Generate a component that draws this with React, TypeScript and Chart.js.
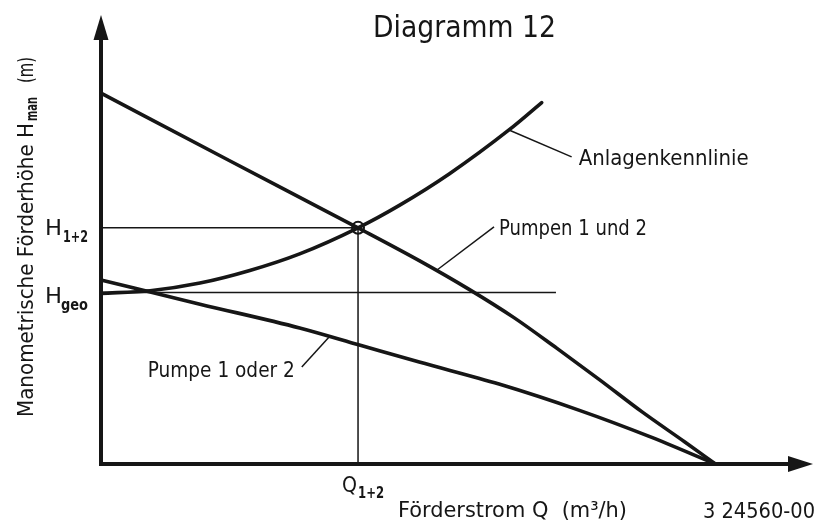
import { useEffect, useRef } from "react";
import { Chart, registerables } from "chart.js";

Chart.register(...registerables);

// Flow Q and head H in relative units (0..100 over the drawn axis length)
const parallelQ = [0, 18, 36.1, 44.7, 51.7, 58, 64, 70, 76, 82, 86.3];
const parallelH = [82.6, 67.6, 52.6, 45.3, 38.9, 32.6, 25.8, 18.8, 11.6, 4.9, 0];

const systemQ = [0, 6.9, 13.9, 20.9, 27.9, 36.1, 41.9, 48.9, 57.3, 61.9];
const systemH = [38.0, 38.6, 40.3, 43.1, 46.8, 52.6, 57.6, 64.6, 74.4, 80.5];

const singleQ = [0, 13.9, 27.9, 36.3, 44.7, 55.9, 67.1, 76.9, 86.3];
const singleH = [41.0, 35.6, 30.3, 26.5, 22.7, 17.8, 12.0, 6.2, 0];

// Static head line and operating point of both pumps together
const geoLineQ = [0, 63.9];
const geoH = 38.2;
const opQ = 36.1;
const opH = 52.6;

// Leader lines from the curves to their captions
const leaderSystemQ = [57.3, 66.1];
const leaderSystemH = [74.4, 68.4];
const leaderParallelQ = [47.1, 55.2];
const leaderParallelH = [43.1, 52.8];
const leaderSingleQ = [32.1, 28.2];
const leaderSingleH = [28.4, 21.6];

const axisMax = 100;

const titleText = "Diagramm 12";
const curveLabels = ["Anlagenkennlinie", "Pumpen 1 und 2", "Pumpe 1 oder 2"];
const xTitle = "Förderstrom Q  (m³/h)";
const yTitleParts = ["Manometrische Förderhöhe H", "man", "(m)"];
const drawingNo = "3 24560-00";

const INK = "#161616";
const FONT = '"DejaVu Sans Condensed", "DejaVu Sans"';

const pts = (qs: number[], hs: number[]) => qs.map((q, i) => ({ x: q, y: hs[i] }));

function fitText(
  ctx: CanvasRenderingContext2D,
  text: string,
  left: number,
  baseline: number,
  width: number,
  size: number,
  bold = false
) {
  ctx.font = `${bold ? "bold " : ""}${size}px ${FONT}`;
  const w = ctx.measureText(text).width;
  ctx.save();
  ctx.translate(left, baseline);
  ctx.scale(width / w, 1);
  ctx.textBaseline = "alphabetic";
  ctx.textAlign = "left";
  ctx.fillText(text, 0, 0);
  ctx.restore();
}

const sketchPlugin = {
  id: "sketch",
  afterDatasetsDraw(chart: any) {
    const { ctx, scales } = chart;
    const sx = scales.x;
    const sy = scales.y;
    const x0 = sx.getPixelForValue(0);
    const y0 = sy.getPixelForValue(0);
    const xTip = sx.getPixelForValue(axisMax);
    const yTip = sy.getPixelForValue(axisMax);
    ctx.save();
    ctx.strokeStyle = INK;
    ctx.fillStyle = INK;
    ctx.lineWidth = 4;
    ctx.beginPath();
    ctx.moveTo(x0, y0 + 2);
    ctx.lineTo(x0, yTip + 20);
    ctx.stroke();
    ctx.beginPath();
    ctx.moveTo(x0 - 2, y0);
    ctx.lineTo(xTip - 20, y0);
    ctx.stroke();
    ctx.beginPath();
    ctx.moveTo(x0, yTip);
    ctx.lineTo(x0 - 7.5, yTip + 25);
    ctx.lineTo(x0 + 7.5, yTip + 25);
    ctx.closePath();
    ctx.fill();
    ctx.beginPath();
    ctx.moveTo(xTip, y0);
    ctx.lineTo(xTip - 25, y0 - 8);
    ctx.lineTo(xTip - 25, y0 + 8);
    ctx.closePath();
    ctx.fill();
    ctx.restore();
  },
  afterDraw(chart: any) {
    const { ctx, scales } = chart;
    const sx = scales.x;
    const sy = scales.y;
    ctx.save();
    ctx.fillStyle = INK;

    // title
    fitText(ctx, titleText, 373, 37, 183, 30);

    // curve captions at the ends of their leader lines
    const sysEndX = sx.getPixelForValue(leaderSystemQ[1]);
    const sysEndY = sy.getPixelForValue(leaderSystemH[1]);
    fitText(ctx, curveLabels[0], sysEndX + 7, sysEndY + 8, 170, 21);

    const parEndX = sx.getPixelForValue(leaderParallelQ[1]);
    const parEndY = sy.getPixelForValue(leaderParallelH[1]);
    fitText(ctx, curveLabels[1], parEndX + 5, parEndY + 8, 148, 21);

    const sinEndX = sx.getPixelForValue(leaderSingleQ[1]);
    const sinEndY = sy.getPixelForValue(leaderSingleH[1]);
    fitText(ctx, curveLabels[2], sinEndX - 7 - 147, sinEndY + 10, 147, 21);

    // H labels on the y axis
    const yOp = sy.getPixelForValue(opH);
    fitText(ctx, "H", 45, yOp + 7, 17, 21);
    fitText(ctx, "1+2", 63, yOp + 14, 25, 16, true);

    const yGeo = sy.getPixelForValue(geoH);
    fitText(ctx, "H", 45, yGeo + 11, 17, 21);
    fitText(ctx, "geo", 61, yGeo + 18, 27, 16, true);

    // Q label under the x axis
    const xOp = sx.getPixelForValue(opQ);
    fitText(ctx, "Q", xOp - 16, 492, 15, 21);
    fitText(ctx, "1+2", xOp, 498, 26, 16, true);

    // axis titles
    fitText(ctx, xTitle, 398, 517, 229, 21);
    fitText(ctx, drawingNo, 703, 518, 112, 21);

    ctx.save();
    ctx.translate(33, 417);
    ctx.rotate(-Math.PI / 2);
    fitText(ctx, yTitleParts[0], 0, 0, 294, 21);
    fitText(ctx, yTitleParts[1], 296, 4, 24, 16, true);
    fitText(ctx, yTitleParts[2], 334, 0, 26, 21);
    ctx.restore();

    ctx.restore();
  },
};

export default function App() {
  const canvasRef = useRef<HTMLCanvasElement | null>(null);

  useEffect(() => {
    const canvas = canvasRef.current;
    if (!canvas) return;

    const thin = (data: { x: number; y: number }[]) => ({
      data,
      borderColor: INK,
      borderWidth: 1.5,
      pointRadius: 0,
      fill: false,
      tension: 0,
      clip: false as const,
    });
    const thick = (label: string, data: { x: number; y: number }[]) => ({
      label,
      data,
      borderColor: INK,
      borderWidth: 3.6,
      pointRadius: 0,
      fill: false,
      cubicInterpolationMode: "monotone" as const,
      borderCapStyle: "round" as const,
      clip: false as const,
    });

    const chart = new Chart(canvas, {
      type: "line",
      data: {
        datasets: [
          thin(pts(geoLineQ, [geoH, geoH])),
          thin(pts([0, opQ], [opH, opH])),
          thin(pts([opQ, opQ], [opH, 0])),
          thin(pts(leaderSystemQ, leaderSystemH)),
          thin(pts(leaderParallelQ, leaderParallelH)),
          thin(pts(leaderSingleQ, leaderSingleH)),
          thick(curveLabels[0], pts(systemQ, systemH)),
          thick(curveLabels[1], pts(parallelQ, parallelH)),
          thick(curveLabels[2], pts(singleQ, singleH)),
          {
            data: [{ x: opQ, y: opH }],
            showLine: false,
            pointRadius: 6,
            pointBorderWidth: 2,
            pointBorderColor: INK,
            pointBackgroundColor: "rgba(0,0,0,0)",
            pointStyle: "circle",
            clip: false as const,
          },
        ],
      },
      options: {
        responsive: false,
        animation: false,
        devicePixelRatio: 1,
        layout: { padding: { left: 101, right: 6, top: 15, bottom: 60 } },
        plugins: { legend: { display: false }, tooltip: { enabled: false }, title: { display: false } },
        events: [],
        scales: {
          x: { type: "linear", min: 0, max: axisMax, display: false },
          y: { type: "linear", min: 0, max: axisMax, display: false },
        },
      },
      plugins: [sketchPlugin],
    });

    return () => chart.destroy();
  }, []);

  return (
    <div style={{ position: "fixed", left: 0, top: 0, width: 821, height: 524, background: "#fff" }}>
      <canvas ref={canvasRef} width={821} height={524} style={{ display: "block" }} />
    </div>
  );
}
